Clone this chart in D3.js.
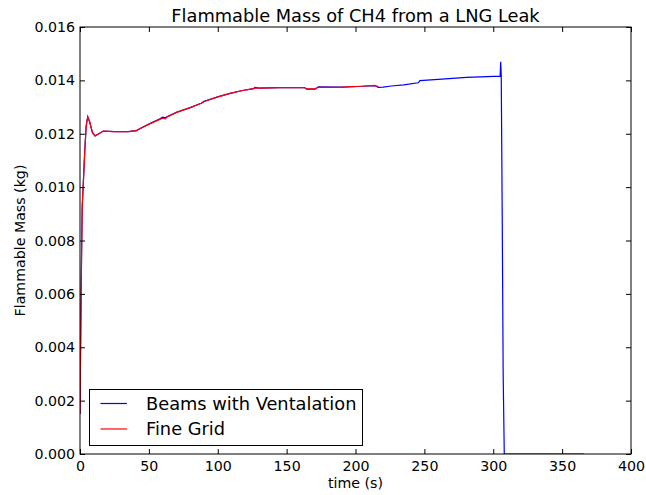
<!DOCTYPE html>
<html><head><meta charset="utf-8">
<script src="https://cdn.jsdelivr.net/npm/d3@7"></script>
<style>body{margin:0;background:#fff}svg{display:block}text{font-family:"DejaVu Sans",sans-serif;fill:#000}</style>
</head><body>
<script>
const title = "Flammable Mass of CH4 from a LNG Leak";
const xLabel = "time (s)";
const yLabel = "Flammable Mass (kg)";
const seriesNames = ["Beams with Ventalation", "Fine Grid"];
const seriesColors = ["#0000ff", "#ff0000"];
const xTicks = [0, 50, 100, 150, 200, 250, 300, 350, 400];
const yTicks = [0.000, 0.002, 0.004, 0.006, 0.008, 0.010, 0.012, 0.014, 0.016];

const beamsT = [0, 0.8, 1.6, 2.4, 3.5, 4.5, 5.6, 7, 9, 10.9, 13, 17, 25, 35, 41, 43, 50, 58, 60, 62, 63, 70, 80, 88, 90, 100, 109, 118, 126, 127, 130, 145, 163, 164.5, 170.6, 173, 190, 205, 214, 216.6, 220, 226, 235, 245.6, 246.8, 260, 280.7, 305, 305.4, 305.8, 306.5, 307.2, 308, 320, 340, 366];
const beamsV = [0.0015, 0.0060, 0.0092, 0.01015, 0.0114, 0.0123, 0.01264, 0.01245, 0.01205, 0.01192, 0.01198, 0.0121, 0.01208, 0.01208, 0.01212, 0.01218, 0.01236, 0.01256, 0.01262, 0.0126, 0.01264, 0.01280, 0.01298, 0.01314, 0.01322, 0.01338, 0.01351, 0.01362, 0.01369, 0.01374, 0.01371, 0.01373, 0.01373, 0.01367, 0.01367, 0.01376, 0.01375, 0.01378, 0.0138, 0.01374, 0.01375, 0.01379, 0.01383, 0.01391, 0.01399, 0.01404, 0.01411, 0.01416, 0.0147, 0.0142, 0.0090, 0.0030, 0.0000, 0.0000, 0.0000, 0.0000];

const fineT = [0, 0.8, 1.6, 2.4, 3.5, 4.5, 5.6, 7, 9, 10.9, 13, 17, 25, 35, 41, 43, 50, 58, 60, 62, 63, 70, 80, 88, 90, 100, 109, 118, 126, 127, 130, 145, 163, 164.5, 170.6, 173, 190, 205, 214, 216.6];
const fineV = [0.0015, 0.0062, 0.0093, 0.01015, 0.0114, 0.0123, 0.01264, 0.01245, 0.01205, 0.01192, 0.01198, 0.0121, 0.01208, 0.01208, 0.01212, 0.01218, 0.01236, 0.01254, 0.01258, 0.01256, 0.01262, 0.01280, 0.01298, 0.01314, 0.01320, 0.01338, 0.01351, 0.01362, 0.01369, 0.01371, 0.01371, 0.01373, 0.01373, 0.01368, 0.01368, 0.01374, 0.01375, 0.01378, 0.01381, 0.01376];

const W = 646, H = 495;
const m = {left: 80, right: 15, top: 27, bottom: 41};
const svg = d3.select("body").append("svg").attr("width", W).attr("height", H);
const x = d3.scaleLinear().domain([0, 400]).range([m.left, W - m.right]);
const y = d3.scaleLinear().domain([0, 0.016]).range([H - m.bottom, m.top]);

const clip = svg.append("clipPath").attr("id", "c").append("rect")
  .attr("x", x(0)).attr("y", y(0.016)).attr("width", x(400) - x(0)).attr("height", y(0) - y(0.016));

const line = d3.line().x(d => x(d[0])).y(d => y(d[1]));
const g = svg.append("g").attr("clip-path", "url(#c)");
g.append("path").datum(d3.zip(beamsT, beamsV)).attr("d", line)
  .attr("fill", "none").attr("stroke", seriesColors[0]).attr("stroke-width", 1.2);
g.append("path").datum(d3.zip(fineT, fineV)).attr("d", line)
  .attr("fill", "none").attr("stroke", seriesColors[1]).attr("stroke-width", 1.2);

const fmt = d3.format(".3f");
const tk = 5;
const axB = svg.append("g").attr("transform", `translate(0,${y(0)})`)
  .call(d3.axisBottom(x).tickValues(xTicks).tickSize(-tk).tickPadding(7).tickFormat(d3.format("d")));
const axT = svg.append("g").attr("transform", `translate(0,${y(0.016)})`)
  .call(d3.axisTop(x).tickValues(xTicks).tickSize(-tk).tickFormat(""));
const axL = svg.append("g").attr("transform", `translate(${x(0)},0)`)
  .call(d3.axisLeft(y).tickValues(yTicks).tickSize(-tk).tickPadding(5).tickFormat(fmt));
const axR = svg.append("g").attr("transform", `translate(${x(400)},0)`)
  .call(d3.axisRight(y).tickValues(yTicks).tickSize(-tk).tickFormat(""));
[axB, axT, axL, axR].forEach(a => {
  a.select(".domain").remove();
  a.selectAll("line").attr("stroke", "#000").attr("stroke-width", 1);
  a.selectAll("text").style("font-size", "14.2px").attr("fill", "#000");
});
svg.append("rect").attr("x", x(0)).attr("y", y(0.016)).attr("width", x(400) - x(0)).attr("height", y(0) - y(0.016))
  .attr("fill", "none").attr("stroke", "#000").attr("stroke-width", 1);

svg.append("text").attr("x", (x(0) + x(400)) / 2).attr("y", 22).attr("text-anchor", "middle")
  .style("font-size", "17.8px").text(title);
svg.append("text").attr("x", (x(0) + x(400)) / 2).attr("y", 488).attr("text-anchor", "middle")
  .style("font-size", "14.2px").text(xLabel);
svg.append("text").attr("transform", `translate(25,${(y(0) + y(0.016)) / 2}) rotate(-90)`).attr("text-anchor", "middle")
  .style("font-size", "14.2px").text(yLabel);

const lg = svg.append("g");
lg.append("rect").attr("x", 89.5).attr("y", 389.5).attr("width", 273).attr("height", 56)
  .attr("fill", "#fff").attr("stroke", "#000").attr("stroke-width", 1);
seriesNames.forEach((n, i) => {
  const yy = 403.5 + i * 25.5;
  lg.append("line").attr("x1", 100.5).attr("x2", 127).attr("y1", yy).attr("y2", yy)
    .attr("stroke", seriesColors[i]).attr("stroke-width", 1.2);
  lg.append("text").attr("x", 146).attr("y", yy).attr("dy", "0.36em").style("font-size", "17.8px").text(n);
});
</script>
</body></html>
